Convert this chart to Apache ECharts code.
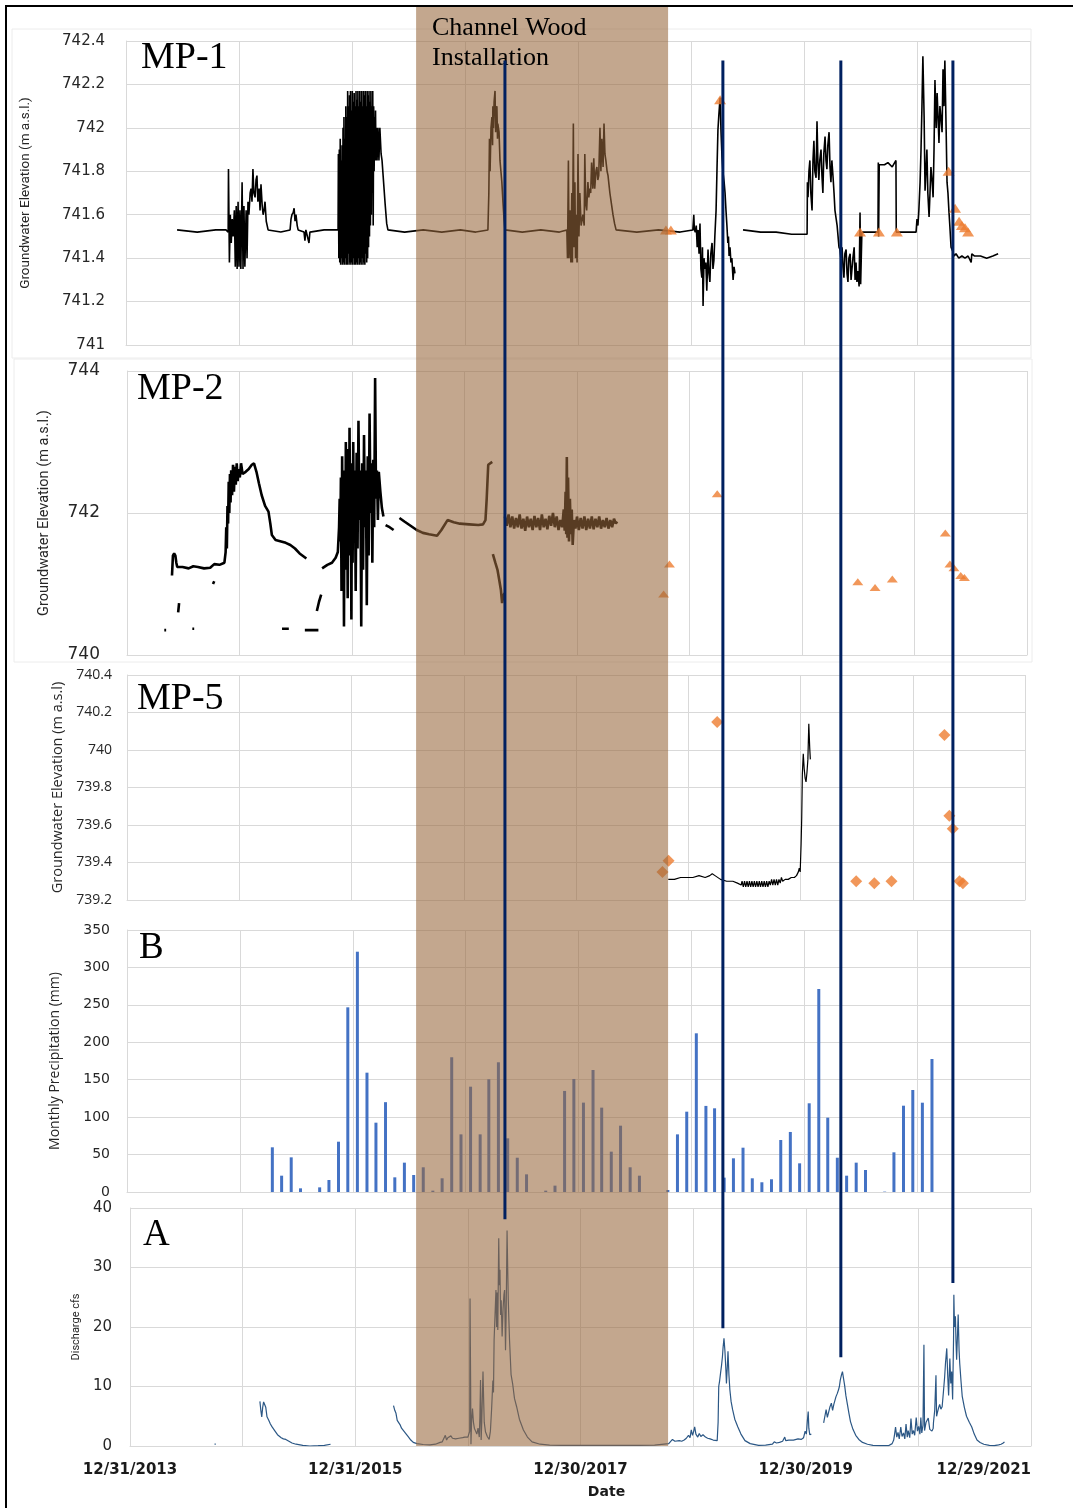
<!DOCTYPE html>
<html>
<head>
<meta charset="utf-8">
<script src="https://cdn.jsdelivr.net/npm/echarts@6.0.0/dist/echarts.min.js"></script>
<style>
html, body { margin: 0; padding: 0; background: #fff; }
#main { width: 1073px; height: 1508px; }
</style>
</head>
<body>
<div id="main"></div>
<script>
/* x values: days after 12/31/2013 (Excel date offset) */
var day0 = Date.UTC(2013, 11, 31);
var yearTick = 365;
var xMax = 2920;

/* channel wood installation and the four marked events */
var installPeriod = [937, 1751];
var eventDays = [1224, 1928, 2309, 2671];
var eventTopMP1 = 742.31;
var eventBottomQ = [38.1, 19.8, 14.9, 27.4];

/* MP-1 logger (null = gap) */
var mp1 = [
 [165,741.53],[230,741.52],[290,741.53],[323,741.53],[330,741.52],[331,741.81],[334,741.38],[337,741.6],[340,741.47],[343,741.58],[346,741.5],[350,741.62],[353,741.36],[356,741.64],[359,741.35],[362,741.66],[365,741.36],[368,741.62],[371,741.35],[375,741.75],[378,741.35],[381,741.64],[384,741.36],[388,741.62],[391,741.4],[394,741.66],[397,741.6],[401,741.7],[404,741.72],[407,741.66],[410,741.81],[413,741.7],[417,741.68],[420,741.76],[423,741.78],[426,741.66],[430,741.72],[433,741.62],[436,741.74],[440,741.64],[443,741.6],[446,741.62],[449,741.66],[453,741.57],[459,741.53],[500,741.52],[530,741.53],[533,741.58],[536,741.6],[540,741.61],[543,741.63],[546,741.57],[549,741.6],[553,741.55],[556,741.53],[575,741.52],[578,741.48],[581,741.53],[591,741.47],[594,741.52],[640,741.53],[685,741.53],
 [686,741.88],[687.5,741.4],[689,741.9],[690.5,741.38],[692,741.95],[693.5,741.37],[695,741.85],[696.5,741.4],[698,741.92],[699.5,741.37],[701,742.0],[702.5,741.38],[704,742.05],[705.5,741.37],[707,741.95],[708.5,741.4],[710,742.1],[711.5,741.37],[713,742.05],[714.5,741.37],[716,742.17],[717.5,741.42],[719,742.1],[720.5,741.37],[722,742.15],[723.5,741.38],[725,742.17],[726.5,741.37],[728,742.08],[729.5,741.38],[731,742.17],[732.5,741.37],[734,742.12],[735.5,741.4],[737,742.16],[738.5,741.37],[740,742.1],[741.5,741.37],[743,742.17],[744.5,741.38],[746,742.13],[747.5,741.37],[749,742.17],[750.5,741.4],[752,742.1],[753.5,741.37],[755,742.17],[756.5,741.38],[758,742.12],[759.5,741.37],[761,742.17],[762.5,741.4],[764,742.1],[765.5,741.37],[767,742.17],[768.5,741.38],[770,742.15],[771.5,741.37],[773,742.17],[774.5,741.42],[776,742.1],[777.5,741.38],[779,742.17],[780.5,741.4],[782,742.15],[783.5,741.45],[785,742.17],[786.5,741.5],[788,742.12],[789.5,741.55],[791,742.17],[792.5,741.6],[794,742.1],[795.5,741.7],[797,742.17],[798.5,741.55],[800,742.1],[801.5,741.8],[803,742.05],[804.5,741.85],[806,742.08],[807.5,741.85],[809,742.0],[811,741.85],[814,742.0],[817,741.85],[820,742.0],[824,741.88],[827,741.85],[832,741.75],[837,741.65],[842,741.56],[846,741.53],
 [900,741.52],[960,741.53],[1020,741.52],[1080,741.53],[1130,741.52],[1169,741.53],
 [1172,741.7],[1174,741.95],[1176,741.8],[1179,742.0],[1182,742.05],[1184,741.92],[1185,742.1],[1187,742.0],[1189,742.12],[1192,742.17],[1194,741.98],[1195,742.08],[1198,742.1],[1200,741.95],[1201,742.02],[1205,741.98],[1208,741.85],[1211,741.8],[1214,741.75],[1218,741.65],[1221,741.58],[1224,741.53],
 [1280,741.52],[1340,741.53],[1400,741.52],[1424,741.53],
 [1426,741.4],[1429,741.85],[1431,741.4],[1434,741.62],[1437,741.38],[1440,741.7],[1442,741.38],[1445,742.02],[1447,741.45],[1450,741.75],[1452,741.4],[1455,741.6],[1457,741.38],[1460,741.88],[1463,741.5],[1466,741.7],[1470,741.55],[1476,741.6],[1480,741.55],[1482,741.88],[1485,741.65],[1488,741.62],[1492,741.75],[1495,741.68],[1498,741.72],[1501,741.7],[1504,741.84],[1508,741.72],[1511,741.86],[1514,741.72],[1518,741.8],[1521,741.82],[1524,741.76],[1527,741.78],[1531,742.0],[1534,741.8],[1537,741.95],[1541,741.82],[1544,742.02],[1547,741.88],[1550,741.85],[1554,741.8],[1557,741.78],[1560,741.74],[1563,741.7],[1568,741.65],[1573,741.6],[1578,741.56],[1583,741.53],
 [1650,741.52],[1720,741.53],[1790,741.52],[1831,741.53],
 [1834,741.6],[1836,741.53],[1839,741.52],[1842,741.55],[1845,741.45],[1848,741.53],[1851,741.42],[1854,741.56],[1857,741.35],[1860,741.31],[1862,741.45],[1864,741.18],[1867,741.4],[1870,741.35],[1873,741.38],[1876,741.25],[1880,741.44],[1883,741.33],[1886,741.29],[1889,741.42],[1893,741.47],[1896,741.35],[1899,741.39],[1902,741.5],[1906,741.62],[1909,741.81],[1912,741.99],[1915,742.06],[1917,742.1],[1919,742.14],[1922,741.98],[1925,741.87],[1928,741.8],[1932,741.75],[1935,741.7],[1938,741.62],[1941,741.55],[1944,741.47],[1946,741.5],[1948,741.41],[1951,741.45],[1954,741.38],[1957,741.4],[1961,741.3],[1964,741.36],[1967,741.33],
 null,
 [1993,741.53],[2050,741.52],[2100,741.52],[2150,741.51],[2200,741.51],
 [2201,741.75],[2203,741.68],[2206,741.8],[2209,741.85],[2212,741.7],[2216,741.62],[2219,741.85],[2222,741.94],[2225,741.8],[2229,741.77],[2232,742.03],[2235,741.84],[2238,741.76],[2241,741.85],[2245,741.9],[2248,741.78],[2251,741.7],[2254,741.88],[2258,741.96],[2261,741.85],[2264,741.81],[2267,741.92],[2271,741.98],[2274,741.82],[2277,741.75],[2280,741.85],[2284,741.77],[2287,741.7],[2290,741.62],[2294,741.58],[2297,741.55],[2300,741.5],[2303,741.45],[2306,741.44],[2309,741.4],[2313,741.45],[2316,741.36],[2319,741.31],[2322,741.42],[2326,741.44],[2329,741.33],[2332,741.29],[2335,741.4],[2339,741.42],[2342,741.3],[2345,741.35],[2348,741.4],[2352,741.45],[2355,741.3],[2358,741.38],[2361,741.29],[2364,741.34],[2368,741.27],[2371,741.61],[2373,741.28],[2377,741.52],
 [2400,741.52],[2429,741.52],[2430,741.84],[2431,741.5],[2433,741.83],[2450,741.83],[2461,741.84],[2475,741.82],[2487,741.85],[2488,741.52],
 [2510,741.52],[2530,741.52],[2552,741.52],[2555,741.58],[2558,741.55],[2561,741.62],[2565,741.75],[2568,741.9],[2571,742.1],[2574,742.33],[2578,742.05],[2581,741.71],[2584,741.8],[2587,741.9],[2590,741.7],[2594,741.59],[2597,741.7],[2600,741.82],[2604,741.75],[2607,741.68],[2610,741.9],[2613,742.22],[2617,742.0],[2620,742.16],[2623,742.05],[2626,741.93],[2629,742.1],[2632,742.05],[2636,741.98],[2639,742.27],[2642,742.1],[2645,742.31],[2649,742.0],[2652,741.75],[2655,741.7],[2658,741.62],[2661,741.55],[2665,741.45],[2668,741.44],[2671,741.43],[2675,741.41],[2681,741.42],[2690,741.4],[2700,741.41],[2710,741.4],[2720,741.41],[2730,741.38],[2732,741.42],[2740,741.41],[2760,741.41],[2780,741.4],[2800,741.41],[2817,741.42]
];
var mp1Obs = [[1744,741.53],[1760,741.53],[1919,742.13],[2371,741.52],[2432,741.52],[2490,741.52],[2657,741.80],[2678,741.63],[2691,741.57],[2700,741.55],[2710,741.54],[2720,741.52]];

/* MP-2 logger */
var mp2 = [
 [121,740.35],[127,740.35],null,
 [212,740.37],[218,740.37],null,
 [166,740.6],[169,740.73],null,
 [279,741.0],[283,741.04],null,
 [146,741.12],[149,741.4],[153,741.43],[157,741.4],[160,741.3],[163,741.24],[180,741.24],[200,741.22],[215,741.25],[230,741.24],[250,741.22],[270,741.23],[283,741.28],[300,741.27],[316,741.3],[320,741.45],[322,741.8],[324,741.5],[326,742.1],[328,741.85],[330,742.44],[332,742.0],[334,742.55],[336,742.15],[338,742.6],[341,742.25],[344,742.68],[347,742.3],[350,742.65],[353,742.4],[356,742.7],[359,742.45],[362,742.62],[366,742.5],[370,742.7],[375,742.55],[385,742.58],[395,742.62],[405,742.68],[412,742.7],[420,742.58],[428,742.42],[437,742.25],[448,742.1],[459,742.02],[465,741.85],[470,741.69],[482,741.62],[500,741.6],[515,741.58],[530,741.55],[545,741.5],[560,741.43],[582,741.36],null,
 [503,740.37],[525,740.37],null,
 [577,740.35],[621,740.35],null,
 [616,740.62],[623,740.75],[630,740.85],null,
 [633,741.22],[650,741.27],[665,741.3],[677,741.37],[684,741.45],[688,741.8],
 [690,742.2],[692,741.6],[694,742.5],[696,740.9],[698,742.8],[700,741.5],[702,742.3],[704,740.4],[706,742.6],[708,741.2],[710,743.0],[712,741.8],[714,742.5],[716,740.8],[718,742.9],[720,741.4],[722,743.2],[724,741.9],[726,742.4],[728,740.5],[730,742.7],[732,741.3],[734,743.0],[736,741.7],[739,742.6],[742,740.9],[745,742.85],[748,741.5],[751,743.3],[754,741.9],[757,742.6],[760,740.4],[763,742.7],[766,741.2],[769,743.1],[772,741.8],[775,742.6],[778,740.7],[781,742.8],[784,741.4],[787,743.4],[790,742.0],[793,742.7],[796,741.3],[799,742.75],[802,741.8],[805,743.9],[808,742.2],[811,742.6],[814,741.9],[817,742.58],[822,742.3],[827,742.07],[832,741.95],null,
 [839,741.83],[852,741.8],[865,741.76],null,
 [884,741.93],[900,741.88],[920,741.82],[940,741.76],[960,741.72],[980,741.7],[1006,741.68],[1020,741.76],[1040,741.9],[1060,741.87],[1080,741.85],[1110,741.84],[1140,741.83],[1155,741.84],[1163,741.9],[1167,742.2],[1172,742.68],[1185,742.72],null,
 [1187,741.42],[1195,741.3],[1202,741.2],[1208,741.05],[1213,740.92],[1217,740.73],[1221,740.84],[1225,740.87],null,
 [1226,741.95],[1232,741.82],[1238,741.98],[1244,741.8],[1250,741.95],[1256,741.78],[1262,741.93],[1268,741.8],[1274,741.98],[1280,741.78],[1286,741.92],[1292,741.75],[1298,741.95],[1304,741.8],[1310,741.92],[1316,741.76],[1322,741.96],[1328,741.8],[1334,741.93],[1340,741.76],[1346,741.98],[1352,741.8],[1358,741.92],[1364,741.77],[1370,741.96],[1376,741.82],[1382,742.0],[1388,741.8],[1394,741.95],[1400,741.76],[1406,741.9],[1412,741.8],[1417,742.05],[1420,741.75],[1423,742.3],[1425,741.7],[1427,742.79],[1429,741.65],[1431,742.5],[1434,741.6],[1437,742.2],[1440,741.7],[1443,742.05],[1446,741.55],[1450,741.9],[1455,741.78],[1460,741.95],[1466,741.76],[1472,741.93],[1478,741.78],[1484,741.95],[1490,741.76],[1496,741.92],[1502,741.78],[1508,741.95],[1514,741.77],[1520,741.92],[1526,741.8],[1532,741.95],[1538,741.78],[1544,741.9],[1550,741.8],[1556,741.93],[1562,741.78],[1568,741.9],[1574,741.8],[1580,741.92],[1586,741.85],[1590,741.88]
];
var mp2Obs = [[1741,740.86],[1760,741.28],[1915,742.27],[2371,741.03],[2427,740.95],[2483,741.07],[2655,741.72],[2670,741.28],[2683,741.23],[2705,741.12],[2717,741.09]];

/* MP-5 logger */
var mp5 = [
 [1760,739.31],[1780,739.31],[1800,739.32],[1820,739.32],[1840,739.32],[1860,739.33],[1880,739.32],[1895,739.33],[1903,739.34],[1907,739.35],[1912,739.33],[1918,739.33],[1930,739.31],[1950,739.3],[1970,739.3],[1985,739.29],[1997,739.28],[2000,739.3],[2004,739.27],[2008,739.3],[2012,739.27],[2016,739.3],[2020,739.27],[2024,739.3],[2028,739.27],[2032,739.3],[2036,739.27],[2040,739.3],[2044,739.27],[2048,739.3],[2052,739.27],[2056,739.3],[2060,739.27],[2064,739.3],[2068,739.27],[2072,739.3],[2076,739.27],[2080,739.3],[2084,739.27],[2088,739.3],[2092,739.28],[2096,739.31],[2100,739.28],[2104,739.31],[2108,739.28],[2112,739.31],[2116,739.28],[2120,739.31],[2124,739.29],[2128,739.32],[2132,739.3],[2140,739.31],[2150,739.31],[2160,739.32],[2170,739.32],[2177,739.33],[2183,739.35],[2186,739.37],[2189,739.35],[2192,739.5],[2194,739.64],[2196,739.87],[2199,739.98],[2202,739.9],[2205,739.85],[2208,739.83],[2211,739.88],[2214,739.95],[2217,740.14],[2220,740.01],[2222,739.95]
];
var mp5Obs = [[1741,739.35],[1761,739.41],[1919,740.15],[2371,739.30],[2430,739.29],[2486,739.30],[2658,740.08],[2674,739.65],[2685,739.58],[2707,739.30],[2718,739.29]];

/* monthly precipitation (mm), April 2015 to February 2021 */
var precipStart = [2015, 3];
var precipMm = [
 59.7, 21.8, 46.3, 4.9, 0, 6.2, 16, 67.2, 246.7,
 321, 159.4, 92.6, 120, 19.6, 39.2, 22.7, 33, 1.8, 18.3, 180, 77,
 140.7, 77, 150.6, 173.3, 71.7, 45.8, 23.6, 0, 1.8, 8.5, 135, 151,
 119.4, 163, 112.7, 53.9, 88.6, 33, 21.8, 0, 0, 2.7, 77, 107.3,
 212, 115, 111.8, 19.2, 45, 59.2, 18.3, 13, 17, 69.5, 80.2, 38.3,
 118.5, 271.2, 99.3, 45.8, 21.8, 39.2, 29.4, 0, 0.5, 53, 115.3, 136.3,
 119.3, 177.7
];

/* discharge (cfs) */
var discharge = [
 [274,0.3],[278,0.3],null,
 [421,7.5],[424,6.0],[427,4.9],[430,6.5],[433,7.4],[436,7.6],[440,6.5],[444,4.9],[450,4.3],[455,3.7],[460,3.25],[470,2.5],[478,1.9],[483,1.6],[490,1.4],[497,1.2],[505,1.1],[515,0.8],[525,0.5],[538,0.3],[560,0.1],[583,0.0],[610,0.05],[630,0.1],[650,0.3],null,
 [854,6.8],[858,6.0],[862,5.5],[866,4.3],[868,4.1],[872,4.5],[876,3.5],[880,3.0],[885,2.7],[892,2.2],[901,1.6],[910,1.0],[918,0.6],[930,0.4],[950,0.25],[972,0.2],[990,0.3],[1005,0.6],[1012,0.7],[1018,1.0],[1022,1.8],[1026,1.0],[1030,1.4],[1035,1.2],[1040,1.7],[1045,1.3],[1050,1.6],[1055,1.2],[1060,1.5],[1066,1.3],[1072,1.6],[1078,1.4],[1085,1.5],[1090,1.3],[1095,1.5],[1098,1.7],[1101,2.5],[1102,24.8],[1104,10],[1105,0.3],[1107,4.0],[1110,6.3],[1113,4.0],[1116,3.0],[1120,2.5],[1124,2.0],[1128,3.0],[1132,1.5],[1134,5],[1136,11.1],[1138,1.0],[1140,4.0],[1142,8.5],[1144,12.5],[1146,8.0],[1148,4.0],[1152,2.4],[1158,1.6],[1164,1.1],[1168,2.5],[1172,6.3],[1176,11.0],[1178,9.0],[1180,17.8],[1183,22],[1186,26.2],[1188,20],[1190,25.8],[1192,19.5],[1195,34.9],[1197,27],[1199,29.6],[1201,22],[1203,24.5],[1206,18.4],[1209,23],[1212,25.5],[1214,26.2],[1217,16.1],[1219,22],[1222,36.2],[1224,30],[1226,24.5],[1228,21],[1230,17.8],[1235,12],[1240,10.5],[1246,8.0],[1253,6.6],[1262,4.5],[1275,2.7],[1288,1.5],[1303,0.7],[1329,0.3],[1360,0.15],[1400,0.1],[1450,0.12],[1500,0.1],[1550,0.1],[1600,0.12],[1650,0.1],[1700,0.15],[1746,0.4],[1752,0.6],[1758,1.1],[1762,1.4],[1766,0.8],[1772,0.7],[1780,0.9],[1788,0.8],[1796,1.0],[1803,1.3],[1810,1.8],[1815,1.4],[1819,2.7],[1823,1.8],[1826,2.3],[1830,3.2],[1834,2.0],[1840,1.5],[1845,2.1],[1850,1.6],[1857,1.9],[1865,1.5],[1872,1.3],[1880,1.2],[1890,1.0],[1903,0.9],[1906,4],[1908,10],[1911,11],[1914,12.3],[1917,13.5],[1920,15],[1922,16.5],[1925,18.1],[1928,16],[1931,13],[1933,10.5],[1936,13.5],[1938,15.9],[1941,12],[1944,9.5],[1948,7.5],[1953,6.1],[1960,4.5],[1970,3.2],[1980,2.0],[1993,0.9],[2010,0.4],[2037,0.1],[2060,0.15],[2082,0.3],[2088,0.7],[2095,0.5],[2105,0.6],[2115,0.8],[2122,1.5],[2125,0.9],[2135,1.0],[2150,1.0],[2165,1.2],[2175,1.1],[2183,1.4],[2188,2.5],[2192,2.0],[2195,4.1],[2198,5.8],[2200,3.0],[2203,1.9],[2208,2.0],null,
 [2248,3.9],[2252,5.0],[2256,6.1],[2260,4.8],[2264,5.0],[2268,6.5],[2273,7.2],[2277,6.0],[2281,7.0],[2285,6.8],[2288,8.3],[2292,8.8],[2296,9.4],[2299,10.0],[2302,11.1],[2306,12.0],[2309,12.5],[2312,11.5],[2316,10.2],[2320,8.5],[2325,7.0],[2330,5.5],[2335,4.1],[2343,2.8],[2352,1.8],[2362,1.1],[2374,0.6],[2390,0.3],[2408,0.1],[2430,0.05],[2458,0.05],[2470,0.4],[2475,1.0],[2478,2.0],[2481,3.2],[2485,1.5],[2489,2.3],[2493,1.2],[2498,3.2],[2502,1.6],[2507,2.2],[2511,1.2],[2515,3.7],[2519,1.5],[2522,2.6],[2527,1.4],[2531,4.6],[2535,2.0],[2539,2.6],[2543,1.8],[2548,4.8],[2552,2.5],[2556,3.3],[2560,2.0],[2563,4.8],[2566,2.2],[2570,3.5],[2573,17.0],[2575,2.6],[2580,4.0],[2587,4.7],[2592,2.8],[2599,2.5],[2603,3.0],[2604,4.0],[2608,6.0],[2612,11.9],[2614,5.0],[2617,5.7],[2621,6.5],[2624,7.0],[2628,6.2],[2632,6.6],[2636,9.0],[2640,11.5],[2643,14.0],[2647,16.4],[2650,12.0],[2653,8.5],[2657,14.7],[2660,10.5],[2663,12.5],[2666,7.8],[2669,18],[2670,25.4],[2672,20],[2675,21.8],[2677,17.5],[2679,14.5],[2682,19],[2684,22.1],[2687,16],[2689,13.9],[2693,11],[2697,8.4],[2704,6.5],[2711,5.0],[2720,4.0],[2728,3.2],[2736,2.0],[2745,1.0],[2755,0.6],[2767,0.3],[2785,0.1],[2801,0.05],[2815,0.2],[2823,0.3],[2830,0.5],[2834,0.7]
];

function withGaps(arr) {
    return arr.map(function (p) { return p === null ? ['-', '-'] : p; });
}
var precipData = precipMm.map(function (v, i) {
    var t = Date.UTC(precipStart[0], precipStart[1] + i, 15);
    return [Math.round((t - day0) / 864e5), v];
});

var narrow = 'Roboto';
var grey = '#d9d9d9';
var txt = '#262626';

var grids = [
    {left: 126, right: 43, top: 41, height: 304},
    {left: 127, right: 46, top: 371, height: 284},
    {left: 127, right: 48, top: 675, height: 225},
    {left: 127, right: 43, top: 930, height: 262},
    {left: 130, right: 42, top: 1208, height: 238}
];

function xAxisFor(i) {
    var ax = {
        gridIndex: i,
        type: 'value',
        min: 0,
        max: xMax,
        interval: yearTick,
        axisLine: {lineStyle: {color: grey}},
        axisTick: {show: false},
        splitLine: {lineStyle: {color: grey}},
        axisLabel: {show: false}
    };
    if (i === 4) {
        ax.axisLabel = {
            show: true,
            margin: 17,
            fontSize: 15,
            fontWeight: 'bold',
            fontFamily: 'DejaVu Sans',
            color: '#1a1a1a',
            alignMaxLabel: 'right',
            formatter: function (v) {
                if (v % (yearTick * 2) !== 0) return '';
                var d = new Date(day0 + v * 864e5);
                return (d.getUTCMonth() + 1) + '/' + d.getUTCDate() + '/' + d.getUTCFullYear();
            }
        };
        ax.name = 'Date';
        ax.nameLocation = 'middle';
        ax.nameGap = 39;
        ax.nameTextStyle = {fontSize: 14, fontWeight: 'bold', fontFamily: 'DejaVu Sans', color: '#1a1a1a', padding: [0, 0, 0, 52]};
    }
    return ax;
}

function yAxisFor(i, min, max, step, name, nameGap, nameFont, nameSize, labelFont, labelSize, labelMargin) {
    return {
        gridIndex: i,
        type: 'value',
        min: min,
        max: max,
        interval: step,
        name: name,
        nameLocation: 'middle',
        nameGap: nameGap,
        nameTextStyle: {fontFamily: nameFont, fontSize: nameSize, color: txt},
        axisLine: {show: true, lineStyle: {color: grey}},
        axisTick: {show: false},
        splitLine: {lineStyle: {color: grey}},
        axisLabel: {fontFamily: labelFont, fontSize: labelSize, color: txt, margin: labelMargin}
    };
}

var serif = {fontFamily: 'Liberation Serif', fontWeight: 'normal', color: '#000'};
function panelTitle(text, left, top, size) {
    return {text: text, left: left, top: top, padding: 0,
        textStyle: Object.assign({fontSize: size}, serif)};
}

var option = {
    animation: false,
    backgroundColor: '#fff',
    title: [
        panelTitle('MP-1', 141, 39, 38),
        panelTitle('MP-2', 137, 370, 38),
        panelTitle('MP-5', 137, 680, 38),
        panelTitle('B', 139, 930, 37),
        panelTitle('A', 143, 1217, 37)
    ],
    grid: grids,
    xAxis: [0, 1, 2, 3, 4].map(xAxisFor),
    yAxis: [
        yAxisFor(0, 741, 742.4, 0.2, 'Groundwater Elevation (m a.s.l.)', 93, narrow, 13.5, 'DejaVu Sans', 15, 21),
        yAxisFor(1, 740, 744, 2, 'Groundwater Elevation (m a.s.l.)', 75, narrow, 14.5, 'DejaVu Sans', 17, 27),
        yAxisFor(2, 739.2, 740.4, 0.2, 'Groundwater Elevation (m a.s.l)', 56, 'Open Sans', 14.5, 'Open Sans', 14, 15),
        yAxisFor(3, 0, 350, 50, 'Monthly Precipitation (mm)', 65, 'Open Sans', 14, 'DejaVu Sans', 14, 17),
        yAxisFor(4, 0, 40, 10, 'Discharge cfs', 46, narrow, 11, 'DejaVu Sans', 15, 18)
    ],
    series: [
        {type: 'line', xAxisIndex: 0, yAxisIndex: 0, data: withGaps(mp1), showSymbol: false,
            lineStyle: {color: '#000', width: 1.6}, z: 2},
        {type: 'scatter', xAxisIndex: 0, yAxisIndex: 0, data: mp1Obs, symbol: 'triangle',
            symbolSize: [12, 9], itemStyle: {color: '#ED7D31'}, z: 3},
        {type: 'line', xAxisIndex: 1, yAxisIndex: 1, data: withGaps(mp2), showSymbol: false,
            lineStyle: {color: '#000', width: 2.6}, z: 2},
        {type: 'scatter', xAxisIndex: 1, yAxisIndex: 1, data: mp2Obs, symbol: 'triangle',
            symbolSize: [11, 7], itemStyle: {color: '#ED7D31'}, z: 3},
        {type: 'line', xAxisIndex: 2, yAxisIndex: 2, data: withGaps(mp5), showSymbol: false,
            lineStyle: {color: '#000', width: 1.2}, z: 2},
        {type: 'scatter', xAxisIndex: 2, yAxisIndex: 2, data: mp5Obs, symbol: 'diamond',
            symbolSize: [12, 12], itemStyle: {color: '#ED7D31'}, z: 3},
        {type: 'bar', xAxisIndex: 3, yAxisIndex: 3, data: precipData, barWidth: 3,
            itemStyle: {color: '#4472C4'}},
        {type: 'line', xAxisIndex: 4, yAxisIndex: 4, data: withGaps(discharge), showSymbol: false,
            lineStyle: {color: '#2b5785', width: 1.2}}
    ]
};

var chart = echarts.init(document.getElementById('main'));
chart.setOption(option);

/* overlays placed through the axes' own scales */
function xPix(d) { return chart.convertToPixel({xAxisIndex: 0}, d); }
var bandL = xPix(installPeriod[0]);
var bandR = xPix(installPeriod[1]);
var bandBottom = chart.convertToPixel({yAxisIndex: 4}, 0);
var lineTop = chart.convertToPixel({yAxisIndex: 0}, eventTopMP1);

var overlays = [
    {type: 'rect', shape: {x: 12, y: 29, width: 1019, height: 329}, style: {fill: 'none', stroke: '#ececec'}, z: 1},
    {type: 'rect', shape: {x: 14, y: 359, width: 1018, height: 303}, style: {fill: 'none', stroke: '#ececec'}, z: 1},
    {type: 'rect', shape: {x: 5, y: 5, width: 2, height: 1503}, style: {fill: '#000'}, z: 130},
    {type: 'rect', shape: {x: 5, y: 5, width: 1068, height: 2}, style: {fill: '#000'}, z: 130},
    {type: 'rect', shape: {x: bandL, y: 7, width: bandR - bandL, height: bandBottom - 7},
        style: {fill: 'rgba(152,103,60,0.58)'}, z: 100},
    {type: 'text', x: 432, y: 13, z: 110,
        style: {text: 'Channel Wood\nInstallation', fontFamily: 'Liberation Serif', fontSize: 26,
            lineHeight: 30, fill: '#000', verticalAlign: 'top'}}
];
eventDays.forEach(function (d, i) {
    var x = xPix(d);
    var yb = chart.convertToPixel({yAxisIndex: 4}, eventBottomQ[i]);
    overlays.push({type: 'line', z: 120,
        shape: {x1: x, y1: lineTop, x2: x, y2: yb},
        style: {stroke: '#002060', lineWidth: 3}});
});
chart.setOption({graphic: overlays});
</script>
</body>
</html>
